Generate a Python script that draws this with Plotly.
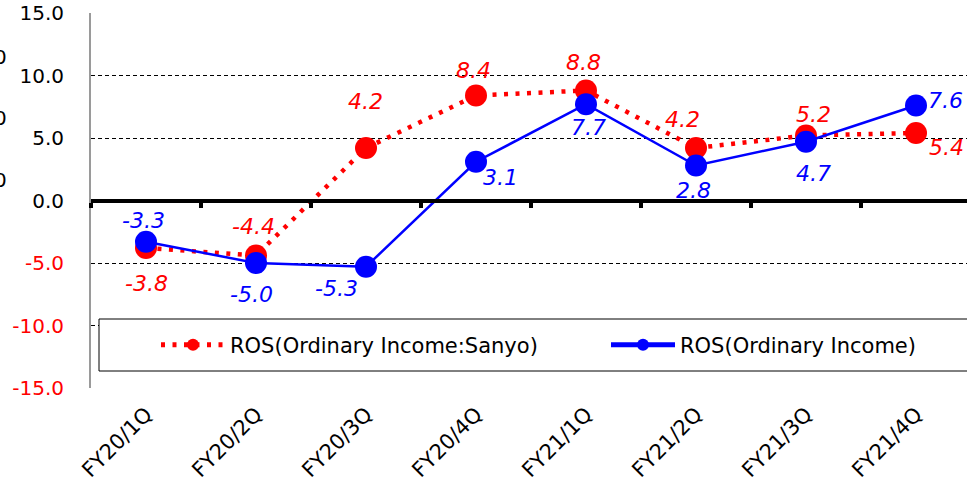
import plotly.graph_objects as go

quarters = ["FY20/1Q", "FY20/2Q", "FY20/3Q", "FY20/4Q",
            "FY21/1Q", "FY21/2Q", "FY21/3Q", "FY21/4Q"]
ros_sanyo = [-3.8, -4.4, 4.2, 8.4, 8.8, 4.2, 5.2, 5.4]
ros_total = [-3.3, -5.0, -5.3, 3.1, 7.7, 2.8, 4.7, 7.6]

y_ticks = [-15, -10, -5, 0, 5, 10, 15]

# label offsets in screen pixels (dx right, dy down) for each point
sanyo_label_offsets = [(0, 35), (-3, -29), (-1, -47), (-3, -25),
                       (-3, -28), (-14, -29), (7, -21), (30, 14)]
total_label_offsets = [(-3, -21), (-5, 31), (-30, 22), (24, 16),
                       (2, 23), (-3, 25), (7, 32), (29, -5)]

RED = "#FF0000"
BLUE = "#0000FF"
FONT = "DejaVu Sans"

W, H = 967, 482
ML, MR, MT, MB = 91, 0, 13, 94
PW = W - ML - MR
PH = H - MT - MB
CAT_PX = 110


def px_x(px):
    return (px - ML) / PW


def px_y(py):
    return (H - MB - py) / PH


fig = go.Figure()

fig.add_trace(go.Scatter(
    x=quarters, y=ros_sanyo, name="ROS(Ordinary Income:Sanyo)",
    mode="lines+markers", xaxis="x2", legend="legend",
    line=dict(color=RED, width=4.5, dash="4px,7.5px"),
    marker=dict(color=RED, size=22),
))
fig.add_trace(go.Scatter(
    x=quarters, y=ros_total, name="ROS(Ordinary Income)",
    mode="lines+markers", xaxis="x2", legend="legend2",
    line=dict(color=BLUE, width=2.5),
    marker=dict(color=BLUE, size=22),
))

annotations = []
for series, offsets, color in ((ros_sanyo, sanyo_label_offsets, RED),
                               (ros_total, total_label_offsets, BLUE)):
    for q, v, (dx, dy) in zip(quarters, series, offsets):
        annotations.append(dict(
            x=q, y=v, xref="x", yref="y", text=f"{v:.1f}",
            showarrow=False, xshift=dx, yshift=-dy,
            font=dict(family=FONT, size=22, color=color, style="italic"),
        ))

# partial labels of the neighbouring axis on the far left
for py in (57, 118, 180):
    annotations.append(dict(
        x=px_x(9), y=px_y(py), xref="paper", yref="paper", text="0",
        showarrow=False, xanchor="right", yanchor="middle",
        font=dict(family=FONT, size=20, color="black"),
    ))


def tick_label(v):
    s = f"{v:.1f}"
    if v < 0:
        return f"<span style='color:{RED}'>{s}</span>"
    return s


legend_style = dict(
    orientation="h", xanchor="left", yanchor="middle", y=px_y(345),
    bgcolor="rgba(0,0,0,0)", borderwidth=0,
    font=dict(family=FONT, size=21, color="black"),
    itemwidth=64, itemsizing="constant",
)

fig.update_layout(
    width=W, height=H,
    margin=dict(l=ML, r=MR, t=MT, b=MB, pad=0, autoexpand=False),
    paper_bgcolor="white", plot_bgcolor="white",
    font=dict(family=FONT, size=20, color="black"),
    showlegend=True,
    legend=dict(x=px_x(156), **legend_style),
    legend2=dict(x=px_x(606), **legend_style),
    xaxis=dict(
        type="category", categoryorder="array", categoryarray=quarters,
        range=[-0.5, -0.5 + PW / CAT_PX], automargin=False,
        showgrid=False, showline=False, zeroline=False,
        ticks="", tickangle=-45, ticklabelstandoff=9,
        tickfont=dict(family=FONT, size=21, color="black"),
    ),
    xaxis2=dict(
        matches="x", overlaying="x", anchor="free", position=0.5,
        automargin=False,
        showgrid=False, zeroline=False, showticklabels=False,
        showline=True, linecolor="black", linewidth=4,
        ticks="outside", tickson="boundaries", ticklen=5,
        tickwidth=4, tickcolor="black",
    ),
    yaxis=dict(
        range=[-15, 15], tickvals=y_ticks, automargin=False,
        ticktext=[tick_label(v) for v in y_ticks],
        showgrid=True, gridcolor="black", gridwidth=1, griddash="4px,3px",
        zeroline=False, showline=True, linecolor="#9a9a9a", linewidth=2,
        ticks="", ticklabelstandoff=21,
        tickfont=dict(family=FONT, size=20, color="black"),
    ),
    shapes=[dict(
        type="rect", xref="paper", yref="paper",
        x0=px_x(99), x1=px_x(980), y0=px_y(371), y1=px_y(319),
        fillcolor="white", line=dict(color="black", width=1), layer="above",
    )],
    annotations=annotations,
)

fig.write_html("out.html")
